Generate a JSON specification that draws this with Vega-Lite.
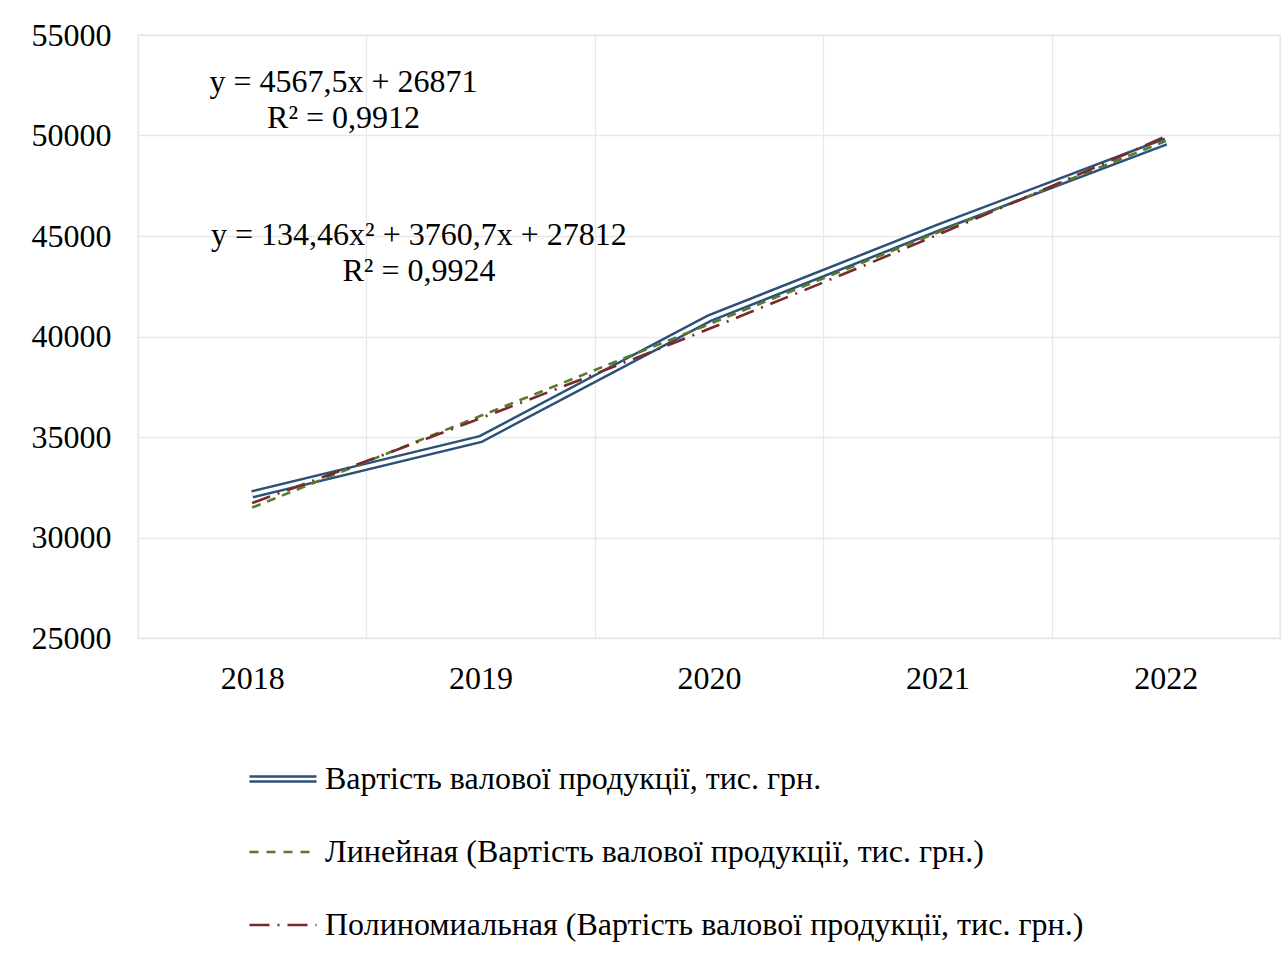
{
  "$schema": "https://vega.github.io/schema/vega-lite/v6.json",
  "width": 1142,
  "height": 603,
  "autosize": {"type": "none"},
  "padding": {"left": 138, "top": 35, "right": 4, "bottom": 316},
  "background": "white",
  "config": {
    "font": "Liberation Serif",
    "view": {"stroke": "#e3e3e3", "strokeWidth": 1.3},
    "axis": {
      "labelFont": "Liberation Serif",
      "labelFontSize": 32,
      "labelColor": "#000000",
      "gridColor": "#e8e8e8",
      "gridWidth": 1.3,
      "domain": false,
      "ticks": false,
      "title": null
    }
  },
  "data": {
    "values": [
      {"year": 2018, "value": 32150},
      {"year": 2019, "value": 34900},
      {"year": 2020, "value": 40900},
      {"year": 2021, "value": 45400},
      {"year": 2022, "value": 49700}
    ]
  },
  "encoding": {
    "x": {
      "field": "year",
      "type": "quantitative",
      "scale": {"domain": [2017.5, 2022.5], "nice": false, "zero": false},
      "axis": {
        "values": [2017.5, 2018.5, 2019.5, 2020.5, 2021.5, 2022.5],
        "labelExpr": "datum.value < 2022 ? format(datum.value + 0.5, 'd') : ''",
        "labelOffset": 114.2,
        "labelPadding": 25,
        "labelFlush": false,
        "labelOverlap": false,
        "labelBaseline": "top"
      }
    },
    "y": {
      "field": "value",
      "type": "quantitative",
      "scale": {"domain": [25000, 55000], "nice": false, "zero": false},
      "axis": {
        "values": [25000, 30000, 35000, 40000, 45000, 50000, 55000],
        "format": "d",
        "labelPadding": 27
      }
    }
  },
  "layer": [
    {
      "mark": {"type": "line", "strokeWidth": 8.5},
      "encoding": {
        "color": {
          "datum": "Вартість валової продукції, тис. грн.",
          "type": "nominal",
          "scale": {
            "domain": [
              "Вартість валової продукції, тис. грн.",
              "Линейная (Вартість валової продукції, тис. грн.)",
              "Полиномиальная (Вартість валової продукції, тис. грн.)"
            ],
            "range": ["#2b5079", "#587a2c", "#7a2a2a"]
          },
          "legend": {
            "orient": "none",
            "legendX": 110,
            "legendY": 709,
            "direction": "vertical",
            "title": null,
            "padding": 0,
            "symbolType": "stroke",
            "symbolSize": 4489,
            "symbolStrokeWidth": 2.6,
            "labelFont": "Liberation Serif",
            "labelFontSize": 32,
            "labelColor": "#000000",
            "labelOffset": 7,
            "labelLimit": 1000,
            "rowPadding": 22,
            "encode": {
              "symbols": {
                "update": {
                  "shape": {"signal": "datum.value === 'Вартість валової продукції, тис. грн.' ? 'M-1,-0.075H1M-1,0.075H1' : 'stroke'"},
                  "strokeDash": {"signal": "datum.value === 'Линейная (Вартість валової продукції, тис. грн.)' ? [9,8] : (datum.value === 'Полиномиальная (Вартість валової продукції, тис. грн.)' ? [20,8,2,8] : [1,0])"}
                }
              }
            }
          }
        }
      }
    },
    {
      "mark": {"type": "line", "strokeWidth": 3.5, "color": "white"}
    },
    {
      "transform": [{"regression": "value", "on": "year"}],
      "mark": {"type": "line", "strokeWidth": 2.6, "strokeDash": [9, 7]},
      "encoding": {
        "color": {"datum": "Линейная (Вартість валової продукції, тис. грн.)", "type": "nominal"}
      }
    },
    {
      "transform": [{"regression": "value", "on": "year", "method": "poly", "order": 2}],
      "mark": {"type": "line", "strokeWidth": 2.6, "strokeDash": [19, 8, 2, 8]},
      "encoding": {
        "color": {"datum": "Полиномиальная (Вартість валової продукції, тис. грн.)", "type": "nominal"}
      }
    },
    {
      "data": {
        "values": [
          {"label": "y = 4567,5x + 26871", "year": 2018.4, "value": 52650},
          {"label": "R² = 0,9912", "year": 2018.4, "value": 50850},
          {"label": "y = 134,46x² + 3760,7x + 27812", "year": 2018.73, "value": 45050},
          {"label": "R² = 0,9924", "year": 2018.73, "value": 43250}
        ]
      },
      "mark": {"type": "text", "font": "Liberation Serif", "fontSize": 32, "align": "center", "baseline": "middle", "color": "#000000"},
      "encoding": {
        "text": {"field": "label", "type": "nominal"}
      }
    }
  ]
}
